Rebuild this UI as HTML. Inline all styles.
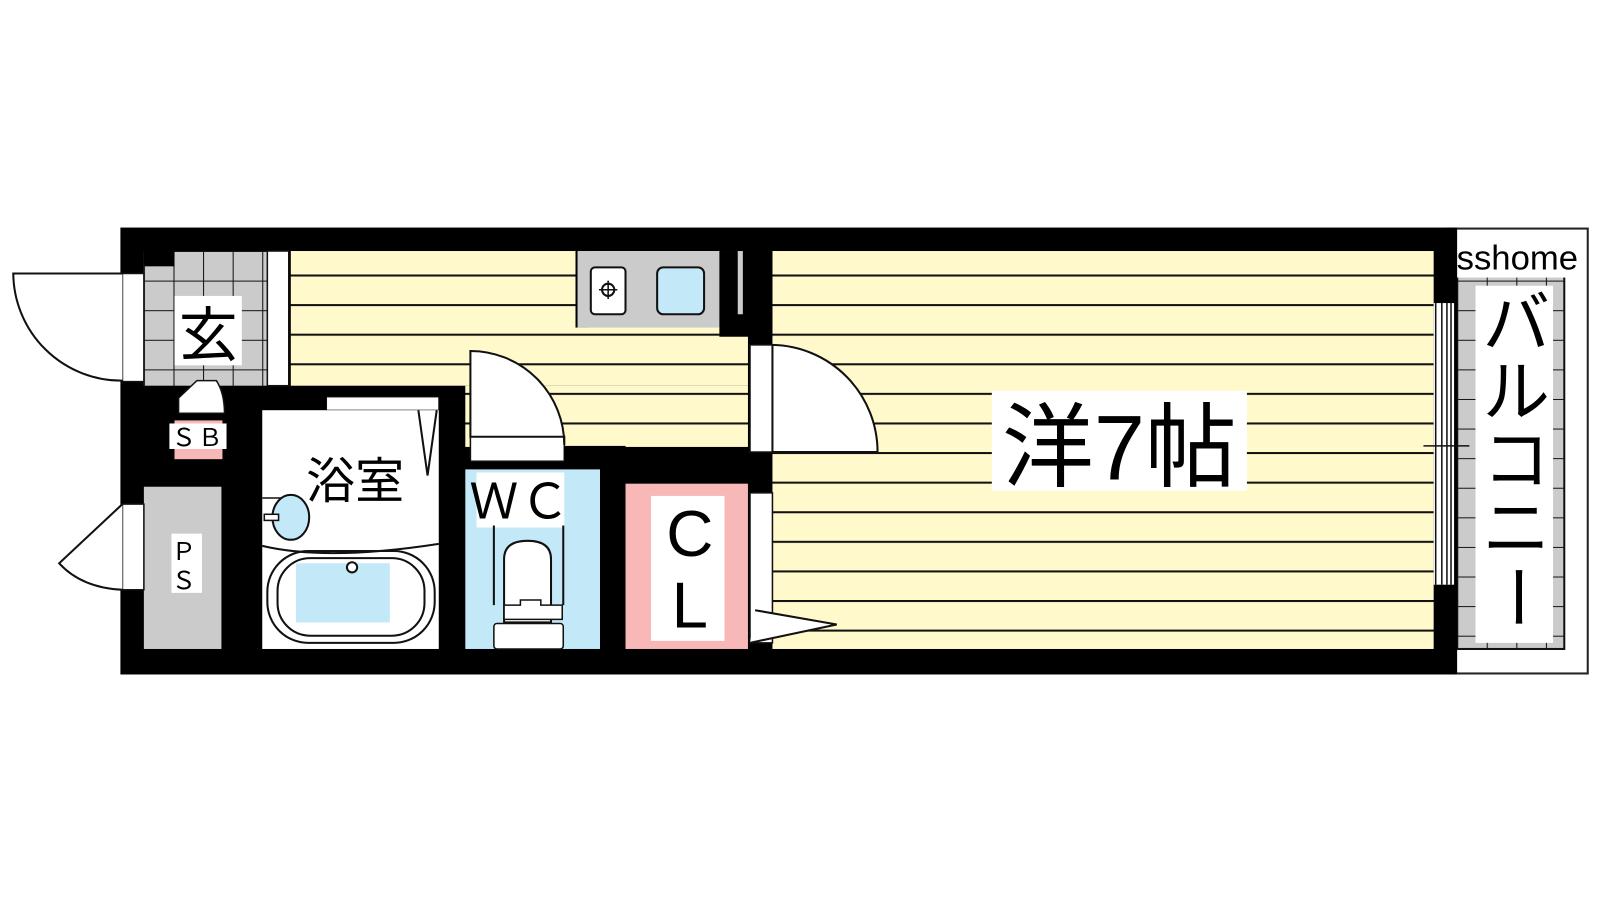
<!DOCTYPE html>
<html><head><meta charset="utf-8"><style>
html,body{margin:0;padding:0;background:#fff;width:1600px;height:900px;overflow:hidden}
text{font-family:"Liberation Sans","Noto Sans CJK JP",sans-serif}
</style></head><body>
<svg width="1600" height="900" viewBox="0 0 1600 900" xmlns="http://www.w3.org/2000/svg">
<defs>
<pattern id="stripe" x="0" y="385" width="10" height="29" patternUnits="userSpaceOnUse">
<rect width="10" height="29" fill="#fff9cc"/><rect y="0" width="10" height="2" fill="#111"/></pattern>
<pattern id="tile" x="141" y="246" width="29" height="29" patternUnits="userSpaceOnUse">
<rect width="29" height="29" fill="#cbcbcb"/><path d="M0 0H29M0 0V29" stroke="#111" stroke-width="2"/></pattern>
<pattern id="tile2" x="1428" y="246" width="29" height="29" patternUnits="userSpaceOnUse">
<rect width="29" height="29" fill="#cbcbcb"/><path d="M0 0H29M0 0V29" stroke="#111" stroke-width="2"/></pattern>
</defs>
<g transform="scale(1.0204)">
<!-- balcony -->
<rect x="1418" y="224" width="138" height="436" fill="#fff" stroke="#222" stroke-width="2"/>
<rect x="1428" y="270" width="105" height="366" fill="url(#tile2)" stroke="#111" stroke-width="2"/>
<rect x="1446" y="280" width="76" height="350" fill="#fff"/>
<rect x="1422" y="232" width="130" height="40" fill="#fff"/>
<text x="1487" y="264" font-size="34" text-anchor="middle">sshome</text>
<g font-size="66" text-anchor="middle"><text x="1486" y="340">バ</text><text x="1486" y="407">ル</text><text x="1486" y="474">コ</text><text x="1486" y="541">ニ</text><text x="1486" y="608" transform="rotate(90 1486 585)">ー</text></g>
<!-- outer walls -->
<rect x="118" y="223" width="1310" height="438" fill="#000"/>
<!-- main room -->
<rect x="757" y="246" width="648" height="390" fill="url(#stripe)"/>
<!-- hall -->
<rect x="285" y="246" width="448" height="132" fill="url(#stripe)"/>
<rect x="456" y="378" width="277" height="60" fill="url(#stripe)"/>
<!-- kitchen -->
<rect x="564" y="246" width="14" height="75" fill="#000"/>
<rect x="566" y="246" width="140" height="75" fill="#cbcbcb"/>
<rect x="579" y="262" width="34" height="46" rx="4" fill="#fff" stroke="#111" stroke-width="2"/>
<circle cx="596" cy="284" r="6" fill="none" stroke="#111" stroke-width="2"/>
<path d="M596 275v18M587 284h18" stroke="#111" stroke-width="1.5"/>
<rect x="644" y="262" width="46" height="46" rx="6" fill="#c3e8f8" stroke="#111" stroke-width="2"/>
<rect x="705" y="246" width="52" height="84" fill="#000"/>
<rect x="723" y="246" width="5" height="62" fill="#ccc"/>
<!-- entry -->
<rect x="141" y="246" width="121" height="132" fill="url(#tile)"/>
<rect x="141" y="246" width="30" height="15" fill="#000"/>
<rect x="262" y="246" width="21" height="132" fill="#fff" stroke="#111" stroke-width="1.5"/>
<rect x="171" y="290" width="66" height="68" fill="#fff"/>
<text x="204" y="349" font-size="58" text-anchor="middle">玄</text>
<!-- entrance door -->
<rect x="120" y="268" width="21" height="106" fill="#fff" stroke="#111" stroke-width="1.5"/>
<path d="M120 268H13A106 106 0 0 0 120 373" fill="#fff" stroke="#111" stroke-width="2"/>
<!-- shoe box -->
<path d="M175 405V390L193 373H212Q220 385 220 405Z" fill="#fff" stroke="#111" stroke-width="1.5"/>
<rect x="171" y="412" width="47" height="38" fill="#f8b8b8"/>
<rect x="166" y="415" width="56" height="25" fill="#fff"/>
<text x="194" y="437" font-size="24" text-anchor="middle" letter-spacing="2">ＳＢ</text>
<!-- PS -->
<rect x="141" y="477" width="76" height="159" fill="#cbcbcb"/>
<rect x="168" y="523" width="30" height="58" fill="#fff"/>
<text x="180" y="549" font-size="24" text-anchor="middle">Ｐ</text>
<text x="180" y="577" font-size="24" text-anchor="middle">Ｓ</text>
<rect x="120" y="494" width="21" height="84" fill="#fff" stroke="#111" stroke-width="1.5"/>
<path d="M120 494L58 552Q80 576 120 578" fill="#fff" stroke="#111" stroke-width="2"/>
<!-- bathroom -->
<rect x="320" y="389" width="110" height="13" fill="#fff" stroke="#111" stroke-width="1"/>
<rect x="257" y="402" width="173" height="234" fill="#fff"/>
<path d="M410 402L419 466L428 402" fill="none" stroke="#111" stroke-width="2"/>
<text x="348" y="488" font-size="48" text-anchor="middle">浴室</text>
<path d="M257 488H285Q300 488 300 505V520" fill="none" stroke="#111" stroke-width="1.5"/>
<ellipse cx="285" cy="507" rx="18" ry="22" fill="#c3e8f8" stroke="#111" stroke-width="2"/>
<rect x="259" y="504" width="14" height="6" fill="#fff" stroke="#111" stroke-width="1.5"/>
<path d="M257 535Q320 550 430 533" fill="none" stroke="#111" stroke-width="2"/>
<rect x="262" y="540" width="164" height="90" rx="40" fill="none" stroke="#111" stroke-width="2"/>
<rect x="272" y="547" width="144" height="76" rx="32" fill="none" stroke="#111" stroke-width="2"/>
<rect x="290" y="552" width="92" height="58" fill="#c3e8f8"/>
<circle cx="345" cy="556" r="5" fill="#fff" stroke="#111" stroke-width="2"/>
<!-- WC door -->
<rect x="461" y="428" width="92" height="24" fill="#fff" stroke="#111" stroke-width="1.5"/>
<path d="M461 428V344A92 92 0 0 1 553 436V428Z" fill="#fff" stroke="#111" stroke-width="2"/>
<rect x="553" y="437" width="60" height="23" fill="#000"/>
<!-- WC -->
<rect x="456" y="460" width="132" height="176" fill="#c3e8f8"/>
<rect x="467" y="463" width="86" height="54" fill="#fff"/>
<text x="510" y="508" font-size="48" text-anchor="middle" letter-spacing="2">ＷＣ</text>
<path d="M494 610V548Q494 530 517 530Q540 530 540 548V610Z" fill="#fff" stroke="#111" stroke-width="2"/>
<path d="M494 593H510V588H530V593H551V607H494Z" fill="#fff" stroke="#111" stroke-width="1.5"/>
<rect x="484" y="611" width="68" height="25" rx="3" fill="#fff" stroke="#111" stroke-width="1.5"/>
<path d="M484 515V593M552 515V593" stroke="#111" stroke-width="2"/>
<!-- CL -->
<rect x="613" y="474" width="120" height="162" fill="#f8b8b8"/>
<rect x="638" y="486" width="72" height="142" fill="#fff"/>
<text x="676" y="545" font-size="64" text-anchor="middle">C</text>
<text x="676" y="615" font-size="64" text-anchor="middle">L</text>
<!-- room doors -->
<rect x="735" y="338" width="22" height="105" fill="#fff" stroke="#111" stroke-width="1.5"/>
<path d="M757 338A105 105 0 0 1 860 443H757Z" fill="#fff" stroke="#111" stroke-width="2"/>
<rect x="735" y="483" width="22" height="147" fill="#fff" stroke="#111" stroke-width="1.5"/>
<path d="M740 598L820 612L735 630" fill="#fff" stroke="#111" stroke-width="2"/>
<!-- label -->
<rect x="972" y="383" width="250" height="98" fill="#fff"/>
<text x="1097" y="470" font-size="90" text-anchor="middle">洋7帖</text>
<!-- window -->
<rect x="1405" y="297" width="20" height="276" fill="#fff"/>
<path d="M1407 297V573M1413 297V573M1418 297V573M1422 297V573" stroke="#111" stroke-width="1.5"/>
<path d="M1395 437H1440" stroke="#111" stroke-width="1.5"/>
</g>
</svg>
</body></html>
